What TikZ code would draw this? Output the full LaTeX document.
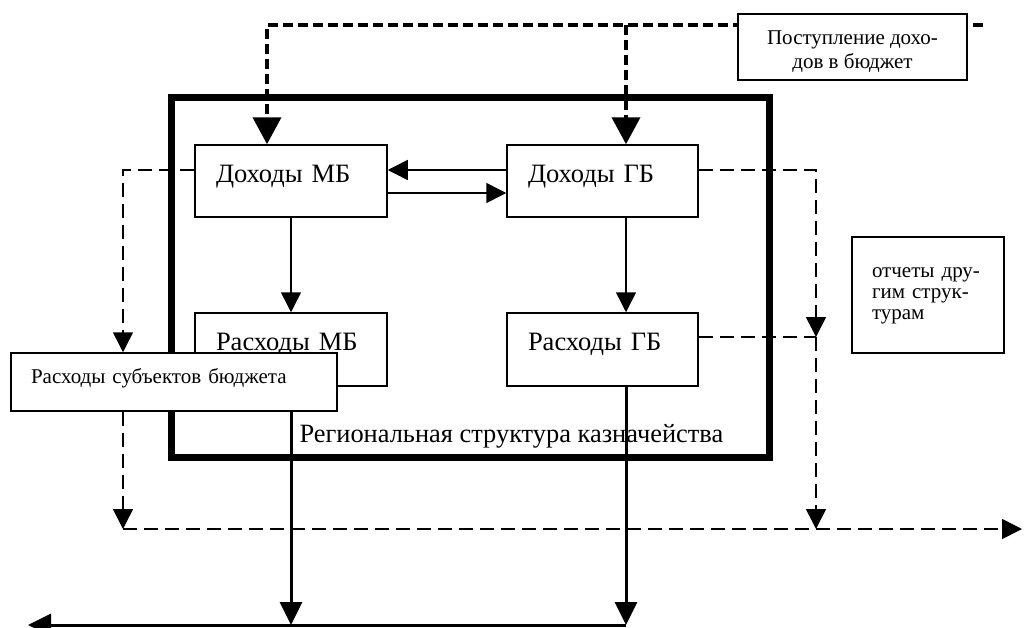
\documentclass[tikz,border=0pt]{standalone}
\usepackage{fontspec}
\setmainfont{Liberation Serif}
\usetikzlibrary{arrows.meta,calc,positioning}
\pgfdeclarelayer{back}
\pgfsetlayers{back,main}

\begin{document}
\begin{tikzpicture}[x=1pt, y=-1pt,
	box/.style = {draw, line width=1.5pt, fill=white, inner sep=0pt},
	unit/.style = {box, align=left, inner xsep=21pt, text width=150pt, minimum height=72pt,
		text height=18pt, text depth=16pt, font=\fontsize{26.5}{30}\selectfont},
	note/.style = {box, font=\fontsize{21}{24}\selectfont},
	flow/.style = {line width=1.5pt, -{Triangle[length=20pt,width=20pt]}},
	report/.style = {flow, dash pattern=on 14pt off 7pt},
	inflow/.style = {line width=4pt, dash pattern=on 10pt off 5pt, -{Triangle[length=27pt,width=28pt]}},
	outflow/.style = {line width=3pt, -{Triangle[length=23pt,width=22pt]}}]
	\useasboundingbox (0,0) rectangle (1028,627);
	\node[unit] (dmb) at (291,181) {Доходы МБ};
	\node[unit, text width=149pt] (dgb) at (602.5,181) {Доходы ГБ};
	\node[unit, minimum height=73pt] (rmb) at (291,349.5) {Расходы МБ};
	\node[unit, text width=149pt, minimum height=73pt] (rgb) at (602.5,349.5) {Расходы ГБ};
	\node[note, align=left, inner xsep=20pt, text width=286pt, minimum height=58pt,
		text height=14pt, text depth=12pt] (subj) at (174,382) {Расходы субъектов бюджета};
	\node[note, align=center, minimum width=229pt, minimum height=66pt,
		text height=44pt, text depth=2pt] (receipts) at (852.5,47) {Поступление дохо-\\дов в бюджет};
	\node[note, align=left, inner xsep=20pt, text width=112pt, minimum height=116pt,
		font=\fontsize{21}{21}\selectfont, text height=14pt, text depth=50pt] (reports) at (928,295) {отчеты дру-\\гим струк-\\турам};
	\coordinate (src) at (983,25);
	\coordinate (lt) at (123,529);
	\coordinate (rt) at (816,529);
	\coordinate (rend) at (1022,529);
	\coordinate (sink) at (626,625);
	\coordinate (exit) at (28,625);
	\coordinate (rj) at ([yshift=12.5pt]rgb.east -| rt);
	\begin{pgfonlayer}{back}
	\node[draw, line width=7pt, inner sep=0pt, minimum width=597.5pt, minimum height=359.5pt] (frame) at (470.25,277.25) {};
	\node[anchor=base west, font=\fontsize{26.4}{30}\selectfont] (title) at (296,442) {Региональная структура казначейства};
	\draw[inflow] (src) -| ([xshift=-24pt]dmb.north);
	\draw[inflow] ([xshift=23.5pt]dgb.north |- src) -- ([xshift=23.5pt]dgb.north);
	\draw[flow] ([yshift=11pt]dgb.west) -- ([yshift=11pt]dmb.east);
	\draw[flow] ([yshift=-12pt]dmb.east) -- ([yshift=-12pt]dgb.west);
	\draw[flow] (dmb) -- (rmb);
	\draw[flow] ([xshift=23.5pt]dgb.south) -- ([xshift=23.5pt]rgb.north);
	\draw[report] ([yshift=11pt]dmb.west) -| (subj.north -| lt);
	\draw[report] (subj.south -| lt) -- (lt);
	\draw[report] (lt) -- (rend);
	\draw[report] ([yshift=11pt]dgb.east) -| (rj);
	\draw[report, -] ([yshift=12.5pt]rgb.east) -- (rj);
	\draw[report] (rj) -- (rt);
	\draw[outflow] (rmb.south) -- (rmb.south |- sink);
	\draw[outflow] ([xshift=23.5pt]rgb.south) -- (sink);
	\draw[outflow] (sink) -- (exit);
	\end{pgfonlayer}
\end{tikzpicture}
\end{document}
